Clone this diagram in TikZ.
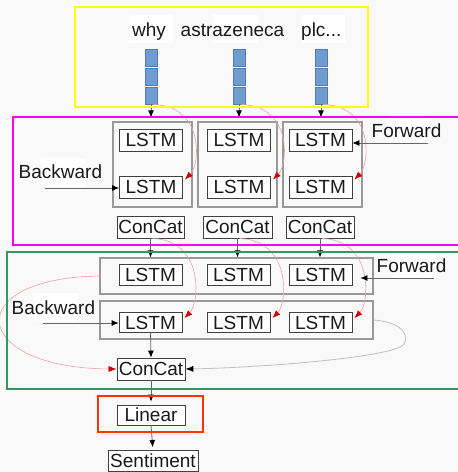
\documentclass[tikz,border=0pt]{standalone}
\usepackage{fontspec}
\setmainfont{Liberation Sans}
\usetikzlibrary{arrows.meta,calc}
\definecolor{bgc}{RGB}{249,249,249}
\definecolor{sqfill}{RGB}{112,156,210}
\definecolor{sqdraw}{RGB}{82,122,178}
\definecolor{yelc}{RGB}{255,255,0}
\definecolor{magc}{RGB}{255,0,255}
\definecolor{grnc}{RGB}{51,150,100}
\definecolor{orgc}{RGB}{255,51,0}
\definecolor{redline}{RGB}{240,160,160}
\definecolor{redtip}{RGB}{204,0,0}
\definecolor{txtc}{RGB}{25,25,25}
\newcommand\dfont{\fontsize{19}{22}\selectfont}
\begin{document}
\begin{tikzpicture}[x=1pt,y=-1pt,
  box/.style={draw=black!75, fill=white, line width=0.8pt, inner sep=1pt,
    minimum width=63pt, minimum height=22pt, font=\dfont, text=txtc},
  grp/.style={draw=black!40, line width=1.2pt, inner sep=0pt},
  sq/.style={draw=sqdraw, fill=sqfill, line width=0.6pt, inner sep=0pt,
    minimum width=12pt, minimum height=17pt},
  lab/.style={font=\dfont, text=txtc, inner sep=0pt, anchor=base west},
  arr/.style={draw=black!60, line width=0.8pt, -{Latex[length=7pt,width=6pt,color=black]}},
  redarr/.style={draw=redline, line width=0.6pt, -{Latex[length=8pt,width=6pt,color=redtip]}},
  grayarr/.style={draw=black!25, line width=0.8pt, -{Latex[length=8pt,width=6pt,color=black]}},
  frame/.style={line width=2.2pt}
]
\fill[bgc] (0,0) rectangle (458,472);
\useasboundingbox (0,0) rectangle (458,472);

% white patches behind labels
\fill[white] (129,15) rectangle (173,43);
\fill[white] (213,15) rectangle (258,43);
\fill[white] (302,15) rectangle (345,43);
\fill[white] (387,115) rectangle (430,143);
\fill[white] (41,158) rectangle (85,187);
\fill[white] (392,253) rectangle (436,278);
\fill[white] (33,293) rectangle (78,321);

% words
\node[lab] (w1) at (132,36) {why};
\node[lab] (w2) at (180.5,36) {astrazeneca};
\node[lab] (w3) at (301,36) {plc...};

% embedding squares
\foreach \c/\x in {1/151,2/239,3/321}{
  \node[sq] (s\c1) at (\x,57.5) {};
  \node[sq] (s\c2) at (\x,76.5) {};
  \node[sq] (s\c3) at (\x,95.5) {};
}

% first BiLSTM layer
\node[grp, minimum width=79pt, minimum height=85pt] (g1) at (152.5,164.5) {};
\node[grp, minimum width=79pt, minimum height=85pt] (g2) at (237.5,164.5) {};
\node[grp, minimum width=79pt, minimum height=85pt] (g3) at (322.5,164.5) {};
\node[box] (lt1) at (151,140) {LSTM};
\node[box] (lt2) at (239,140) {LSTM};
\node[box] (lt3) at (320.5,140) {LSTM};
\node[box] (lb1) at (151,187) {LSTM};
\node[box] (lb2) at (239,187) {LSTM};
\node[box] (lb3) at (320.5,187) {LSTM};
\node[box, minimum width=67pt] (cc1) at (150.5,227) {ConCat};
\node[box, minimum width=69pt] (cc2) at (237.5,227) {ConCat};
\node[box, minimum width=68pt] (cc3) at (320,227) {ConCat};
\node[lab] (fw1) at (371.5,137) {Forward};
\node[lab] (bw1) at (18.5,178) {Backward};

% second BiLSTM layer
\node[grp, minimum width=273pt, minimum height=36pt] (frow) at (236.5,276) {};
\node[grp, minimum width=273pt, minimum height=38pt] (brow) at (236.5,320) {};
\node[box, minimum height=21pt] (gt1) at (150.5,274.5) {LSTM};
\node[box, minimum height=21pt] (gt2) at (238.5,274.5) {LSTM};
\node[box, minimum height=21pt] (gt3) at (320.5,274.5) {LSTM};
\node[box, minimum height=20pt] (gb1) at (150.5,322.5) {LSTM};
\node[box, minimum height=20pt] (gb2) at (238.5,322.5) {LSTM};
\node[box, minimum height=20pt] (gb3) at (320.5,322.5) {LSTM};
\node[lab] (fw2) at (376.5,272) {Forward};
\node[lab] (bw2) at (11.5,314) {Backward};
\node[box, minimum width=68pt] (fc) at (151,369) {ConCat};

% output
\node[box, minimum width=68pt, minimum height=20pt] (ln) at (151,415) {Linear};
\node[box, minimum width=90pt, minimum height=21pt] (st) at (153,461) {Sentiment};

% connectors
\foreach \c in {1,2,3}{
  \draw[arr, shorten >=4pt] (s\c3.south) -- (s\c3.south |- g\c.north);
  \draw[redarr] ($(s\c3.south)+(2,0)$) .. controls +(52,2) and +(15,-15) .. ($(lb\c.north east)+(2,4)$);
  \draw[arr] (cc\c.south) -- (cc\c.south |- frow.north);
  \draw[redarr] ($(cc\c.south)+(2,0)$) .. controls +(52,2) and +(15,-15) .. ($(gb\c.north east)+(2,6)$);
}
\coordinate (fa1) at (428,143);
\draw[arr] (fa1) -- (fa1 -| lt3.east);
\coordinate (ba1) at (45,188);
\draw[arr] (ba1) -- (ba1 -| lb1.west);
\coordinate (fa2) at (434,278);
\draw[arr, shorten >=8pt] (fa2) -- (fa2 -| gt3.east);
\coordinate (ba2) at (43,323);
\draw[arr] (ba2) -- (ba2 -| gb1.west);

\draw[arr] (gb1.south) -- (fc.north);
\draw[redarr] (frow.west) .. controls +(-140,2) and +(-147,-1) .. (fc.west);
\coordinate (gk) at (404,344);
\draw[grayarr] (brow.east) .. controls (400,322) and (410,334) .. (gk)
   .. controls (395,358) and (250,368) .. (fc.east);
\draw[arr, shorten >=3pt] (fc.south) -- (ln.north);
\draw[arr, shorten >=3pt] (ln.south) -- (st.north);

% frames
\draw[yelc, frame] (75,7) rectangle (368,107);
\draw[magc, frame] (13,117) rectangle (470,245);
\draw[grnc, frame] (7,252) rectangle (470,389);
\draw[orgc, frame] (98,396) rectangle (203,432);
\end{tikzpicture}
\end{document}
